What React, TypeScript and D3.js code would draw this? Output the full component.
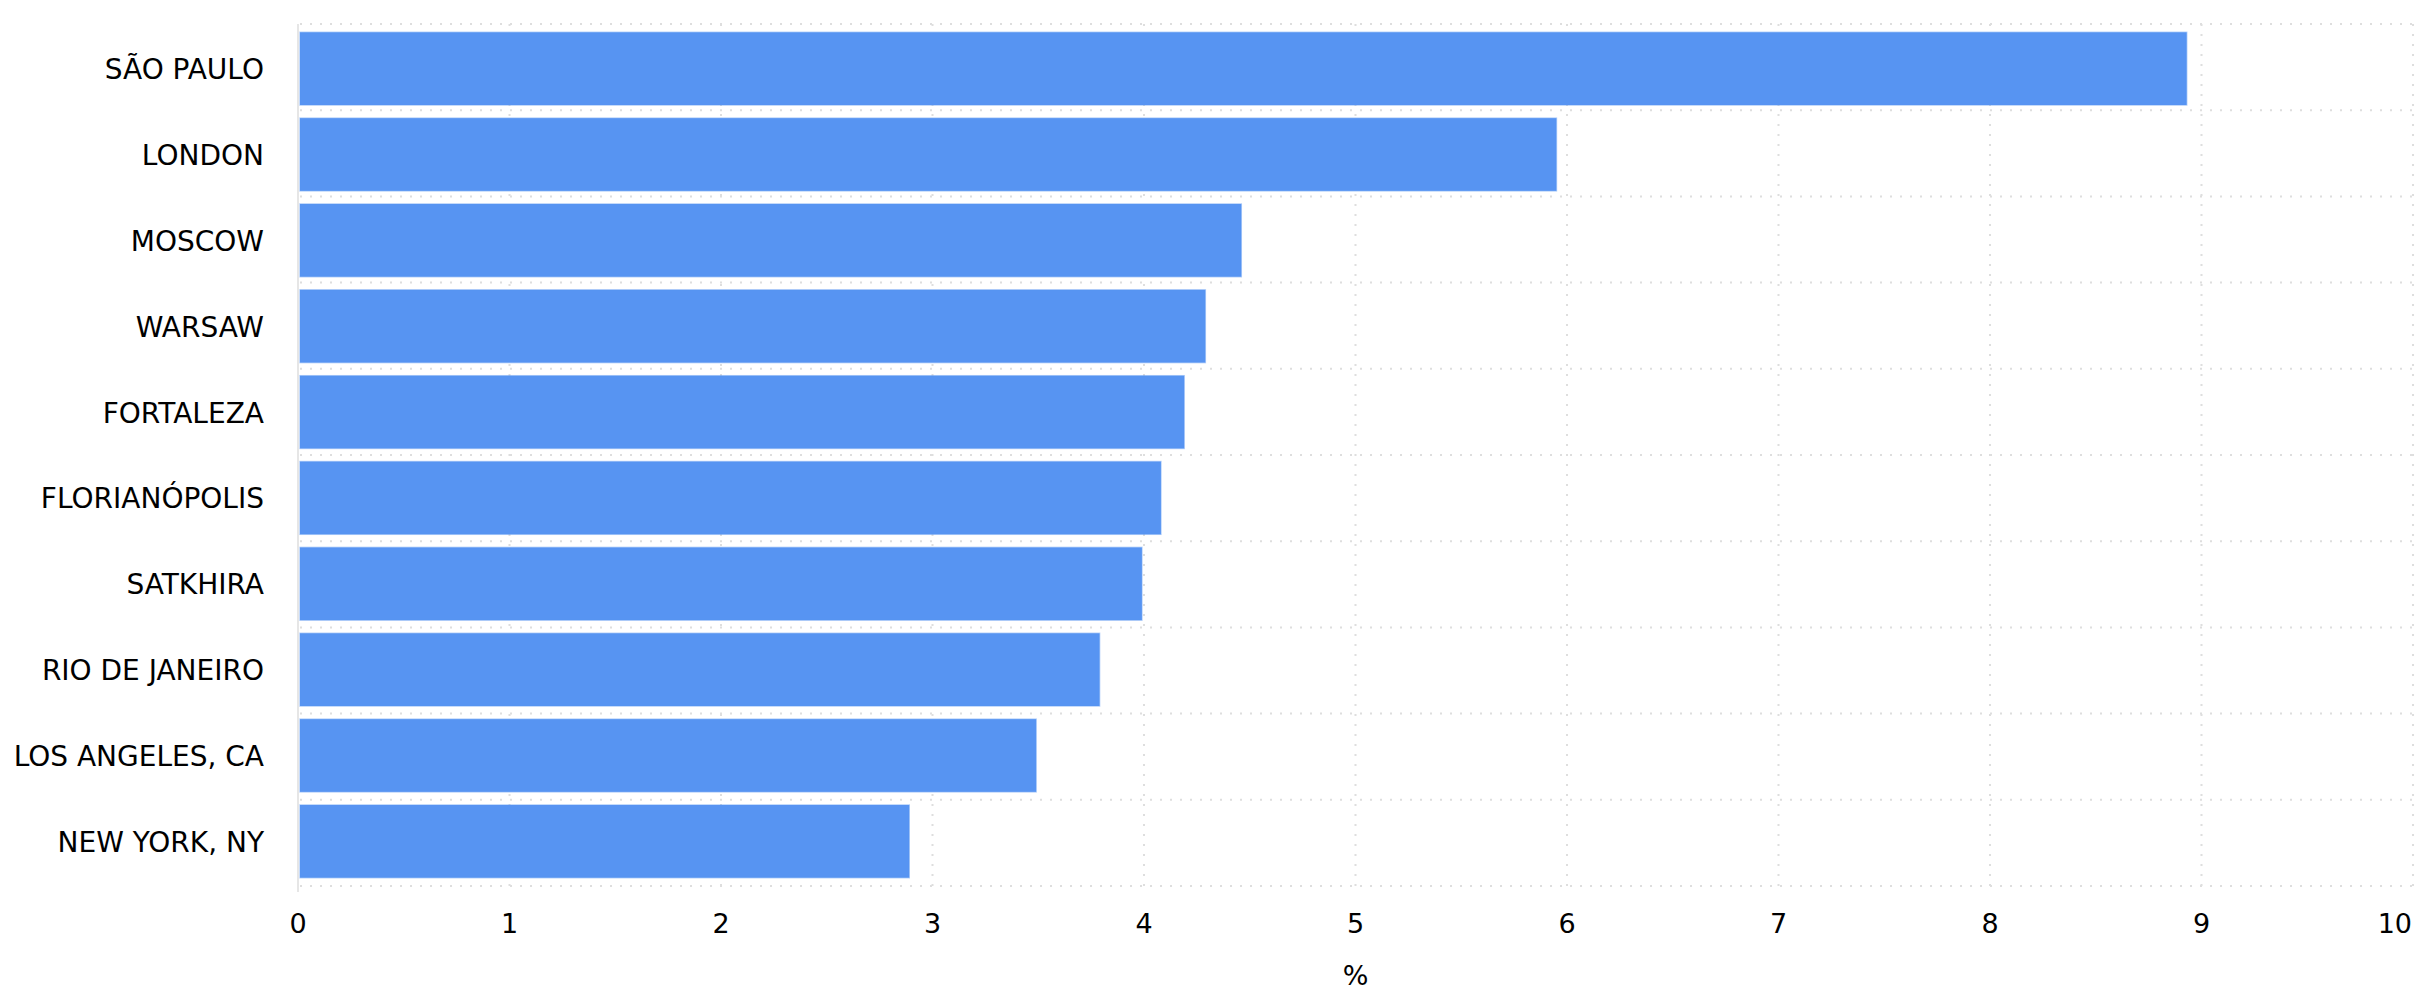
import React from "react";
import * as d3 from "d3";

const categories = [
  "SÃO PAULO",
  "LONDON",
  "MOSCOW",
  "WARSAW",
  "FORTALEZA",
  "FLORIANÓPOLIS",
  "SATKHIRA",
  "RIO DE JANEIRO",
  "LOS ANGELES, CA",
  "NEW YORK, NY",
];
const values = [8.93, 5.95, 4.46, 4.29, 4.19, 4.08, 3.99, 3.79, 3.49, 2.89];
const xTicks = [0, 1, 2, 3, 4, 5, 6, 7, 8, 9, 10];
const xAxisLabel = "%";

const W = 2425;
const H = 1000;
const left = 298;
const right = 2413;
const top = 24;
const bottom = 886;
const FONT = "'DejaVu Sans', Verdana, sans-serif";
const BAR = "#5794F2";
const GRID = "#dedede";

export default function App() {
  const x = d3.scaleLinear().domain([0, 10]).range([left, right]);
  const yGrid = d3.scaleBand<string>().domain(categories).range([top, bottom]).padding(0);
  const yBar = d3
    .scaleBand<string>()
    .domain(categories)
    .range([top, bottom])
    .paddingInner(0.153)
    .paddingOuter(0.0965);

  const hLines = categories.map((c) => yGrid(c) as number).concat([bottom]);

  return (
    <svg
      width={W}
      height={H}
      style={{ position: "absolute", left: 0, top: 0, background: "#fff" }}
      fontFamily={FONT}
    >
      {/* horizontal dotted grid */}
      {hLines.map((y, i) => (
        <line
          key={"h" + i}
          x1={left + 2}
          x2={right + 1}
          y1={y}
          y2={y}
          stroke={GRID}
          strokeWidth={2}
          strokeDasharray="2 8"
        />
      ))}
      {/* vertical dotted grid */}
      {xTicks.slice(1).map((t) => (
        <line
          key={"v" + t}
          x1={x(t)}
          x2={x(t)}
          y1={top}
          y2={bottom + 6}
          stroke={GRID}
          strokeWidth={2}
          strokeDasharray="2 8"
        />
      ))}
      {/* y axis line */}
      <line x1={left} x2={left} y1={top} y2={bottom + 6} stroke="#e6e6e6" strokeWidth={2} />

      {/* bars */}
      {categories.map((c, i) => (
        <rect
          key={c}
          x={x(0) + 2}
          y={yBar(c) as number}
          width={x(values[i]) - x(0) - 2}
          height={yBar.bandwidth()}
          fill={BAR}
          stroke="rgba(87,148,242,0.45)"
          strokeWidth={1.5}
        />
      ))}

      {/* category labels */}
      {categories.map((c) => (
        <text
          key={"l" + c}
          x={264}
          y={(yBar(c) as number) + yBar.bandwidth() / 2 + 10.5}
          textAnchor="end"
          fontSize={28}
          fill="#000"
        >
          {c}
        </text>
      ))}

      {/* x tick labels */}
      {xTicks.map((t) => (
        <text
          key={"t" + t}
          x={t === 10 ? x(t) - 1 : x(t)}
          y={933}
          textAnchor={t === 10 ? "end" : "middle"}
          fontSize={27}
          fill="#000"
        >
          {t}
        </text>
      ))}

      <text x={(left + right) / 2} y={985} textAnchor="middle" fontSize={27} fill="#000">
        {xAxisLabel}
      </text>
    </svg>
  );
}
